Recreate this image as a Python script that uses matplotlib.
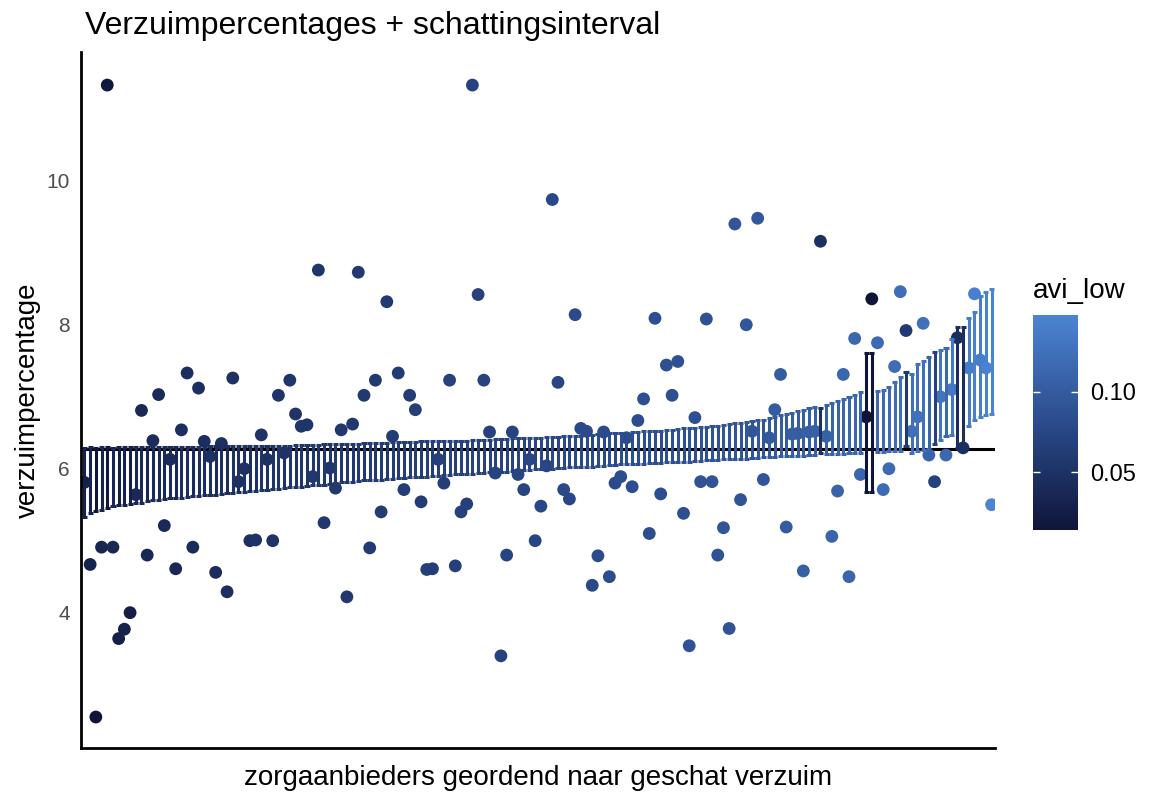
"""Verzuimpercentages per zorgaanbieder met schattingsinterval
"""
import numpy as np
import matplotlib
matplotlib.use('Agg')
import matplotlib.pyplot as plt
from matplotlib.colors import LinearSegmentedColormap, Normalize

plt.rcParams['font.family'] = ['Liberation Sans', 'DejaVu Sans']

# Data: providers sorted on estimated absence (index = rank)
lower = [
    5.33, 5.38, 5.41, 5.43, 5.46, 5.48, 5.49, 5.50, 5.51, 5.52,
    5.53, 5.55, 5.56, 5.57, 5.58, 5.59, 5.60, 5.60, 5.61, 5.62,
    5.62, 5.63, 5.64, 5.64, 5.65, 5.66, 5.66, 5.67, 5.68, 5.69,
    5.69, 5.70, 5.71, 5.72, 5.72, 5.73, 5.74, 5.74, 5.75, 5.76,
    5.77, 5.78, 5.78, 5.79, 5.80, 5.81, 5.81, 5.82, 5.83, 5.84,
    5.84, 5.85, 5.85, 5.86, 5.86, 5.87, 5.87, 5.88, 5.88, 5.89,
    5.89, 5.90, 5.90, 5.91, 5.91, 5.92, 5.92, 5.93, 5.93, 5.94,
    5.94, 5.95, 5.95, 5.96, 5.96, 5.97, 5.97, 5.98, 5.98, 5.99,
    5.99, 6.00, 6.00, 6.01, 6.01, 6.02, 6.02, 6.02, 6.03, 6.03,
    6.04, 6.04, 6.05, 6.05, 6.06, 6.06, 6.06, 6.07, 6.07, 6.08,
    6.08, 6.08, 6.09, 6.09, 6.10, 6.10, 6.10, 6.11, 6.11, 6.12,
    6.12, 6.12, 6.13, 6.13, 6.14, 6.14, 6.14, 6.15, 6.15, 6.16,
    6.16, 6.16, 6.17, 6.17, 6.18, 6.18, 6.18, 6.19, 6.19, 6.22,
    6.20, 6.20, 6.21, 6.21, 6.22, 6.22, 6.22, 5.67, 5.67, 6.23,
    6.23, 6.24, 6.24, 6.25, 6.31, 6.22, 6.24, 6.26, 6.28, 6.35,
    6.40, 6.45, 6.47, 6.29, 6.29, 6.60, 6.68, 6.72, 6.75, 6.76,
]
upper = [
    6.29, 6.30, 6.29, 6.30, 6.30, 6.29, 6.30, 6.30, 6.30, 6.30,
    6.30, 6.30, 6.30, 6.30, 6.30, 6.30, 6.30, 6.30, 6.30, 6.30,
    6.30, 6.30, 6.31, 6.31, 6.31, 6.31, 6.31, 6.31, 6.31, 6.31,
    6.31, 6.31, 6.31, 6.32, 6.32, 6.32, 6.32, 6.33, 6.33, 6.33,
    6.33, 6.33, 6.34, 6.34, 6.34, 6.35, 6.35, 6.35, 6.35, 6.36,
    6.36, 6.36, 6.36, 6.36, 6.37, 6.37, 6.37, 6.37, 6.37, 6.38,
    6.38, 6.38, 6.38, 6.38, 6.39, 6.39, 6.39, 6.39, 6.40, 6.40,
    6.40, 6.40, 6.41, 6.41, 6.41, 6.42, 6.42, 6.42, 6.43, 6.43,
    6.43, 6.44, 6.44, 6.44, 6.45, 6.45, 6.46, 6.46, 6.47, 6.47,
    6.48, 6.48, 6.49, 6.49, 6.50, 6.50, 6.51, 6.51, 6.52, 6.52,
    6.53, 6.53, 6.54, 6.54, 6.55, 6.56, 6.56, 6.57, 6.58, 6.58,
    6.59, 6.60, 6.61, 6.62, 6.63, 6.64, 6.65, 6.66, 6.67, 6.68,
    6.70, 6.72, 6.74, 6.76, 6.78, 6.80, 6.82, 6.84, 6.86, 6.85,
    6.88, 6.91, 6.94, 6.97, 7.00, 7.03, 7.06, 7.61, 7.61, 7.08,
    7.10, 7.14, 7.20, 7.27, 7.35, 7.32, 7.45, 7.50, 7.55, 7.62,
    7.65, 7.68, 7.80, 7.97, 7.97, 8.10, 8.18, 8.40, 8.45, 8.50,
]
verzuim = [
    5.81, 4.67, 2.55, 4.91, 11.33, 4.91, 3.64, 3.77, 4.00, 5.64,
    6.81, 4.80, 6.39, 7.03, 5.21, 6.13, 4.61, 6.54, 7.33, 4.91,
    7.12, 6.38, 6.17, 4.56, 6.35, 4.29, 7.26, 5.82, 6.00, 5.00,
    5.01, 6.47, 6.13, 5.00, 7.02, 6.22, 7.23, 6.76, 6.59, 6.61,
    5.89, 8.76, 5.25, 6.01, 5.73, 6.54, 4.22, 6.62, 8.73, 7.02,
    4.90, 7.23, 5.40, 8.32, 6.45, 7.33, 5.71, 7.02, 6.82, 5.54,
    4.60, 4.61, 6.13, 5.80, 7.23, 4.65, 5.40, 5.51, 11.33, 8.42,
    7.23, 6.51, 5.94, 3.40, 4.80, 6.51, 5.92, 5.71, 6.13, 5.00,
    5.48, 6.04, 9.74, 7.20, 5.71, 5.58, 8.14, 6.56, 6.52, 4.38,
    4.79, 6.51, 4.50, 5.80, 5.89, 6.43, 5.75, 6.67, 6.97, 5.10,
    8.09, 5.65, 7.44, 7.02, 7.49, 5.38, 3.54, 6.71, 5.82, 8.08,
    5.82, 4.80, 5.18, 3.78, 9.40, 5.57, 8.00, 6.52, 9.48, 5.85,
    6.43, 6.82, 7.31, 5.19, 6.48, 6.49, 4.58, 6.51, 6.52, 9.16,
    6.45, 5.06, 5.69, 7.31, 4.50, 7.81, 5.92, 6.72, 8.36, 7.75,
    5.71, 6.00, 7.42, 8.46, 7.92, 6.52, 6.72, 8.02, 6.19, 5.82,
    7.00, 6.19, 7.10, 7.82, 6.29, 7.40, 8.43, 7.51, 7.40, 5.50,
]
avi_low = [
    0.030, 0.032, 0.015, 0.035, 0.018, 0.036, 0.028, 0.030, 0.025, 0.038,
    0.040, 0.037, 0.042, 0.041, 0.040, 0.043, 0.039, 0.045, 0.044, 0.041,
    0.046, 0.045, 0.047, 0.043, 0.048, 0.044, 0.049, 0.047, 0.050, 0.046,
    0.050, 0.052, 0.049, 0.051, 0.053, 0.050, 0.054, 0.052, 0.055, 0.053,
    0.056, 0.054, 0.057, 0.055, 0.058, 0.056, 0.059, 0.057, 0.060, 0.058,
    0.061, 0.059, 0.062, 0.060, 0.063, 0.061, 0.064, 0.062, 0.065, 0.063,
    0.066, 0.064, 0.067, 0.065, 0.068, 0.066, 0.069, 0.067, 0.070, 0.068,
    0.071, 0.069, 0.072, 0.070, 0.073, 0.071, 0.074, 0.072, 0.075, 0.073,
    0.076, 0.074, 0.077, 0.075, 0.078, 0.076, 0.079, 0.077, 0.080, 0.078,
    0.081, 0.079, 0.082, 0.080, 0.083, 0.081, 0.084, 0.082, 0.085, 0.083,
    0.086, 0.084, 0.087, 0.085, 0.088, 0.086, 0.089, 0.087, 0.090, 0.088,
    0.091, 0.089, 0.092, 0.090, 0.093, 0.091, 0.094, 0.092, 0.095, 0.093,
    0.097, 0.099, 0.101, 0.100, 0.103, 0.102, 0.105, 0.104, 0.106, 0.048,
    0.108, 0.110, 0.109, 0.112, 0.111, 0.114, 0.113, 0.014, 0.014, 0.116,
    0.118, 0.117, 0.120, 0.122, 0.060, 0.124, 0.126, 0.125, 0.110, 0.070,
    0.130, 0.115, 0.134, 0.045, 0.045, 0.138, 0.142, 0.140, 0.145, 0.148,
]
gemiddelde = 6.28

lower = np.array(lower)
upper = np.array(upper)
verzuim = np.array(verzuim)
avi_low = np.array(avi_low)
x = np.arange(len(verzuim))

cmap = LinearSegmentedColormap.from_list('avi', ['#0f1538', '#2b4b8c', '#4c84d2'])
norm = Normalize(vmin=avi_low.min(), vmax=avi_low.max())
cols = cmap(norm(avi_low))

fig = plt.figure(figsize=(11.49, 7.97), dpi=100)
ax = fig.add_axes([0.0705, 0.0615, 0.7955, 0.8733])

ax.axhline(gemiddelde, color='black', lw=2.2, zorder=1)
ax.scatter(x, verzuim, s=85, c=cols, edgecolors='none', zorder=2)

# error bars (caps merge into a band), darkest drawn last
order = np.r_[np.where(avi_low >= 0.02)[0], np.where(avi_low < 0.02)[0]]
hw = 0.45
lw = 2.2
ax.vlines(x[order], lower[order], upper[order], colors=cols[order], lw=lw, zorder=3)
ax.hlines(lower[order], x[order] - hw, x[order] + hw, colors=cols[order], lw=lw, zorder=3)
ax.hlines(upper[order], x[order] - hw, x[order] + hw, colors=cols[order], lw=lw, zorder=3)

ax.set_xlim(-0.6, len(x) - 0.4)
ax.set_ylim(2.12, 11.79)
ax.set_yticks([4, 6, 8, 10])
ax.set_xticks([])
ax.tick_params(axis='y', labelsize=15, length=0, pad=8, labelcolor='#4d4d4d')
for s in ['top', 'right']:
    ax.spines[s].set_visible(False)
for s in ['left', 'bottom']:
    ax.spines[s].set_linewidth(2)
ax.set_xlabel('zorgaanbieders geordend naar geschat verzuim', fontsize=20, labelpad=12)
ax.set_ylabel('verzuimpercentage', fontsize=20, labelpad=4)

fig.text(0.074, 0.968, 'Verzuimpercentages + schattingsinterval', fontsize=23,
         ha='left', va='center')

# colour bar
cax = fig.add_axes([0.899, 0.335, 0.039, 0.27])
sm = plt.cm.ScalarMappable(norm=norm, cmap=cmap)
cb = fig.colorbar(sm, cax=cax, ticks=[0.05, 0.10])
cb.ax.set_yticklabels(['0.05', '0.10'])
cb.outline.set_visible(False)
cax.tick_params(direction='in', length=5, width=1, color='white', left=True,
                right=True, labelsize=17, pad=9)
fig.text(0.899, 0.635, 'avi_low', fontsize=20, ha='left', va='center')

plt.savefig('out.png')
